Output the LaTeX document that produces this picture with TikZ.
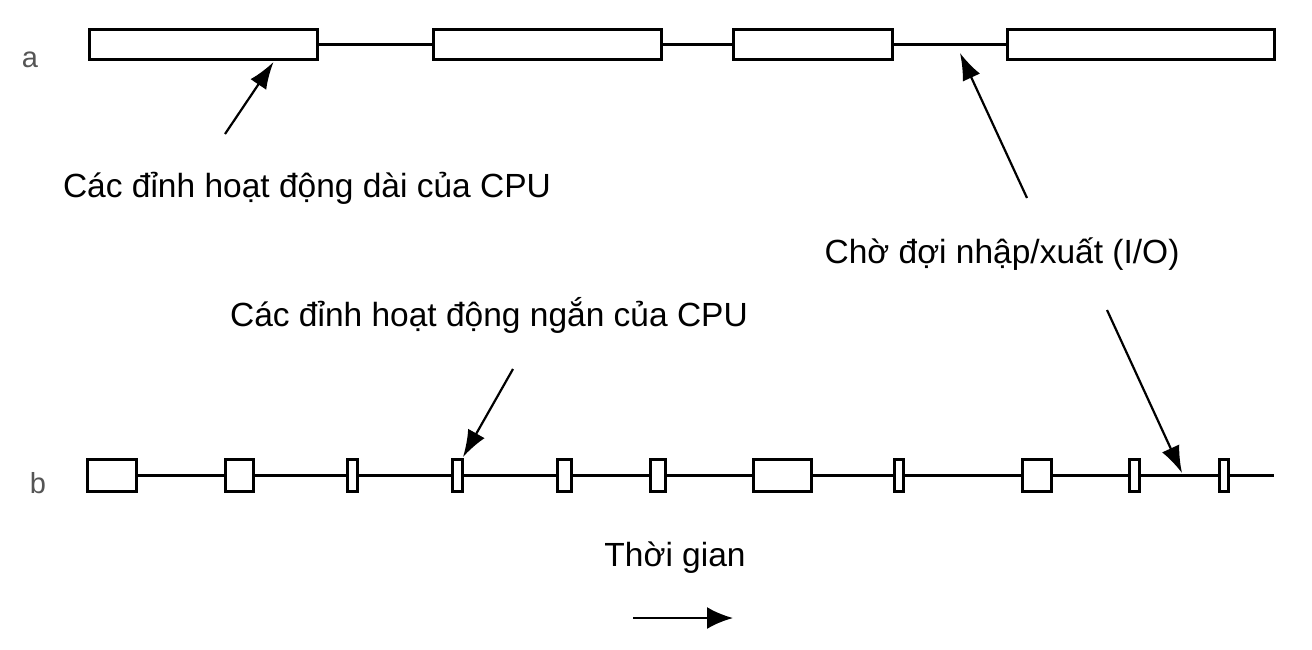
\documentclass[tikz,border=0pt]{standalone}
\usepackage{fontspec}
\setmainfont{Liberation Sans}
\usetikzlibrary{arrows.meta}
\definecolor{lblgray}{HTML}{555555}
\begin{document}
\begin{tikzpicture}[x=1pt,y=-1pt,
  burst/.style={draw,line width=2.8pt,rectangle,inner sep=0pt,outer sep=0pt},
  wait/.style={line width=2.4pt},
  ptr/.style={line width=2.2pt,-{Latex[length=27pt,width=19pt]}},
  lbl/.style={font=\fontsize{33.5}{40}\selectfont,inner sep=0pt,anchor=base},
  rowlbl/.style={font=\fontsize{29}{33}\selectfont,text=lblgray,inner sep=0pt}]
\useasboundingbox (0,0) rectangle (1312,649);
% row a
\node[rowlbl] (la) at (30,60) {a};
\node[burst,minimum width=228.5pt,minimum height=30.5pt] (a1) at (203.5,44.5) {};
\node[burst,minimum width=228.5pt,minimum height=30.5pt] (a2) at (547.5,44.5) {};
\node[burst,minimum width=159.5pt,minimum height=30.5pt] (a3) at (813,44.5) {};
\node[burst,minimum width=267.5pt,minimum height=30.5pt] (a4) at (1141,44.5) {};
\draw[wait] (a1.east) -- (a2.west);
\draw[wait] (a2.east) -- (a3.west);
\draw[wait] (a3.east) -- (a4.west);
% row b
\node[rowlbl] (lb) at (38,483) {b};
\foreach \n/\l/\r in {b1/86/138,b2/224/255,b3/346/359,b4/451/464,b5/556/573,b6/649/667,b7/752/813,b8/893/905,b9/1021/1053,b10/1128/1141,b11/1218/1230}{
  \pgfmathsetmacro{\w}{\r-\l-2.8}
  \pgfmathsetmacro{\c}{(\l+\r)/2}
  \node[burst,minimum width=\w pt,minimum height=32.2pt] (\n) at (\c,475.5) {};
}
\coordinate (bend) at (1274,475.5);
\draw[wait] (b1.east) -- (b2.west);
\draw[wait] (b2.east) -- (b3.west);
\draw[wait] (b3.east) -- (b4.west);
\draw[wait] (b4.east) -- (b5.west);
\draw[wait] (b5.east) -- (b6.west);
\draw[wait] (b6.east) -- (b7.west);
\draw[wait] (b7.east) -- (b8.west);
\draw[wait] (b8.east) -- (b9.west);
\draw[wait] (b9.east) -- (b10.west);
\draw[wait] (b10.east) -- (b11.west);
\draw[wait] (b11.east) -- (bend);
% labels
\node[lbl] (tlong) at (307,197) {Các đỉnh hoạt động dài của CPU};
\node[lbl] (tio) at (1002,263) {Chờ đợi nhập/xuất (I/O)};
\node[lbl] (tshort) at (489,326) {Các đỉnh hoạt động ngắn của CPU};
\node[lbl] (ttime) at (675,566) {Thời gian};
% pointer arrows
\coordinate (p1s) at (225,134);
\coordinate (p1e) at (273.5,62);
\draw[ptr] (p1s) -- (p1e);
\coordinate (p2s) at (1027,198);
\coordinate (p2e) at (960,53);
\draw[ptr] (p2s) -- (p2e);
\coordinate (p3s) at (513,369);
\coordinate (p3e) at (463,457);
\draw[ptr] (p3s) -- (p3e);
\coordinate (p4s) at (1107,310);
\coordinate (p4e) at (1182,473);
\draw[ptr] (p4s) -- (p4e);
\coordinate (t1) at (633,618);
\coordinate (t2) at (733,618);
\draw[line width=2.6pt,-{Latex[length=26pt,width=22pt]}] (t1) -- (t2);
\end{tikzpicture}
\end{document}
